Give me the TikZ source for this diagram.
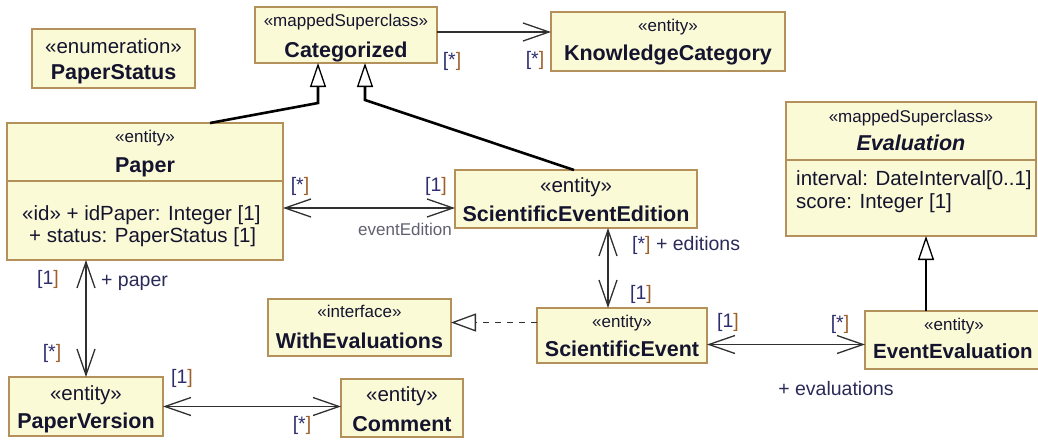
\documentclass[tikz,border=0pt]{standalone}
\usepackage{fontspec}
\setmainfont{Liberation Sans}
\usetikzlibrary{arrows.meta,calc}
\definecolor{clsfill}{HTML}{FBFAD7}
\definecolor{clsdraw}{HTML}{B4915A}
\definecolor{txt}{HTML}{14142E}
\definecolor{mblue}{HTML}{2E2E70}
\definecolor{mbrown}{HTML}{A0602A}
\definecolor{rolec}{HTML}{2A2A58}
\definecolor{linec}{HTML}{303030}
\definecolor{grayl}{HTML}{606070}
\newcommand{\mlt}[1]{{\color{mblue}[#1}{\color{mbrown}]}}
\tikzset{
  cls/.style={draw=clsdraw, fill=clsfill, line width=1.4pt, inner sep=0pt, outer sep=0pt, anchor=north west},
  divline/.style={draw=clsdraw, line width=1.4pt},
  st/.style={font=\fontsize{17}{20}\selectfont, text=txt, inner sep=0pt, anchor=base},
  stL/.style={font=\fontsize{20.5}{24}\selectfont, text=txt, inner sep=0pt, anchor=base},
  nm/.style={font=\bfseries\fontsize{21.5}{25}\selectfont, text=txt, inner sep=0pt, anchor=base},
  attr/.style={font=\fontsize{20.5}{24}\selectfont, text=txt, inner sep=0pt, anchor=base west},
  lbl/.style={font=\fontsize{19.5}{22}\selectfont, text=rolec, inner sep=0pt},
  assoc/.style={draw=linec, line width=1.3pt},
  bi/.style={assoc, {Straight Barb[length=26pt,width=18pt,line width=1.3pt]}-{Straight Barb[length=26pt,width=18pt,line width=1.3pt]}},
  uni/.style={assoc, -{Straight Barb[length=26pt,width=18pt,line width=1.3pt]}},
  gen/.style={draw=black, line width=2.6pt, -{Triangle[length=24pt,width=16pt,line width=1.3pt,fill=white]}},
  realize/.style={draw=linec, line width=1.3pt, dash pattern=on 6pt off 6pt, -{Triangle[length=25pt,width=18pt,line width=1.3pt,fill=white]}}
}
\begin{document}
\begin{tikzpicture}[x=1pt,y=-1pt]
\useasboundingbox (0,0) rectangle (1038,439);
\clip (0,0) rectangle (1038,439);

% PaperStatus
\node[cls, minimum width=163, minimum height=59] (ps) at (32,29) {};
\node[stL] (psS) at ($(ps.north)+(0,24)$) {«enumeration»};
\node[nm] (psN) at ($(ps.north)+(0,50)$) {PaperStatus};

% Categorized
\node[cls, minimum width=182, minimum height=56] (cat) at (255,7) {};
\node[st] (catS) at ($(cat.north)+(0,20)$) {«mappedSuperclass»};
\node[nm] (catN) at ($(cat.north)+(0,50)$) {Categorized};

% KnowledgeCategory
\node[cls, minimum width=234, minimum height=59] (kc) at (551,12) {};
\node[st] (kcS) at ($(kc.north)+(0,19)$) {«entity»};
\node[nm] (kcN) at ($(kc.north)+(0,48)$) {KnowledgeCategory};

% Evaluation
\node[cls, minimum width=250, minimum height=134] (ev) at (786,102) {};
\draw[divline] ($(ev.north west)+(0,58)$) -- ($(ev.north east)+(0,58)$);
\node[st] (evS) at ($(ev.north)+(0,20)$) {«mappedSuperclass»};
\node[nm] (evN) at ($(ev.north)+(0,48)$) {\itshape Evaluation};
\node[attr] (evA1) at (796,185) {interval: DateInterval[0..1]};
\node[attr] (evA2) at (796,208) {score: Integer [1]};

% Paper
\node[cls, minimum width=276, minimum height=137] (paper) at (7,123) {};
\draw[divline] ($(paper.north west)+(0,58)$) -- ($(paper.north east)+(0,58)$);
\node[st] (paperS) at ($(paper.north)+(0,19)$) {«entity»};
\node[nm] (paperN) at ($(paper.north)+(0,49)$) {Paper};
\node[attr] (paperA1) at (22,220) {«id» + idPaper: Integer [1]};
\node[attr] (paperA2) at (29,242) {+ status: PaperStatus [1]};

% ScientificEventEdition
\node[cls, minimum width=242, minimum height=58] (see) at (455,170) {};
\node[stL] (seeS) at ($(see.north)+(0,22)$) {«entity»};
\node[nm] (seeN) at ($(see.north)+(0,51)$) {ScientificEventEdition};

% ScientificEvent
\node[cls, minimum width=170, minimum height=55] (se) at (537,308) {};
\node[st] (seS) at ($(se.north)+(0,19)$) {«entity»};
\node[nm] (seN) at ($(se.north)+(0,48)$) {ScientificEvent};

% EventEvaluation (box runs past the right edge, as in the reference)
\node[cls, minimum width=186, minimum height=58] (ee) at (865,311) {};
\node[st] (eeS) at (954,330) {«entity»};
\node[nm, anchor=base west, font=\bfseries\fontsize{20.5}{24}\selectfont] (eeN) at (873,358) {EventEvaluation};

% WithEvaluations
\node[cls, minimum width=183, minimum height=57] (we) at (268,299) {};
\node[st] (weS) at ($(we.north)+(0,18)$) {«interface»};
\node[nm] (weN) at ($(we.north)+(0,49)$) {WithEvaluations};

% PaperVersion
\node[cls, minimum width=154, minimum height=59] (pv) at (9,377) {};
\node[stL] (pvS) at ($(pv.north)+(0,23)$) {«entity»};
\node[nm] (pvN) at ($(pv.north)+(0,51)$) {PaperVersion};

% Comment
\node[cls, minimum width=122, minimum height=58] (cm) at (341,379) {};
\node[stL] (cmS) at ($(cm.north)+(0,22)$) {«entity»};
\node[nm] (cmN) at ($(cm.north)+(0,52)$) {Comment};

% Generalizations
\coordinate (g1a) at ($(paper.north west)+(203,0)$);
\coordinate (g1b) at ($(cat.south west)+(63,40)$);
\draw[gen] (g1a) -- (g1b) -- ($(cat.south west)+(63,0)$);
\coordinate (g2a) at ($(see.north west)+(119,0)$);
\coordinate (g2b) at ($(cat.south west)+(110,37)$);
\draw[gen] (g2a) -- (g2b) -- ($(cat.south west)+(110,0)$);
\coordinate (g3a) at ($(ee.north west)+(61,0)$);
\draw[gen] (g3a) -- (g3a |- ev.south);

% Categorized -> KnowledgeCategory
\coordinate (c1) at ($(cat.east)+(0,-3)$);
\draw[uni] (c1) -- (kc.west |- c1);
\node[lbl] (l1) at (452,61) {\mlt{*}};
\node[lbl] (l2) at (535,60) {\mlt{*}};

% Paper <-> ScientificEventEdition
\coordinate (c2) at ($(see.west)+(0,9)$);
\draw[bi] (paper.east |- c2) -- (c2);
\node[lbl] (l3) at (300,186) {\mlt{*}};
\node[lbl] (l4) at (436,186) {\mlt{1}};
\node[lbl, text=grayl, font=\fontsize{17}{20}\selectfont] (l5) at (405,229) {eventEdition};

% ScientificEventEdition <-> ScientificEvent
\coordinate (c3) at ($(se.north west)+(71,0)$);
\draw[bi] (c3 |- see.south) -- (c3);
\node[lbl, anchor=west] (l6) at (632,245) {\mlt{*} + editions};
\node[lbl] (l7) at (641,294) {\mlt{1}};

% ScientificEvent <-> EventEvaluation
\coordinate (c4) at ($(se.east)+(0,9)$);
\draw[bi] (c4) -- (ee.west |- c4);
\node[lbl] (l8) at (728,322) {\mlt{1}};
\node[lbl] (l9) at (840,324) {\mlt{*}};
\node[lbl] (l10) at (836,389) {+ evaluations};

% ScientificEvent realizes WithEvaluations
\coordinate (c5) at ($(we.east)+(0,-5)$);
\draw[realize] (se.west |- c5) -- (c5);

% Paper <-> PaperVersion
\draw[bi] (pv.north |- paper.south) -- (pv.north);
\node[lbl] (l11) at (48,279) {\mlt{1}};
\node[lbl, anchor=west] (l12) at (101,283) {+ paper};
\node[lbl] (l13) at (52,353) {\mlt{*}};

% PaperVersion <-> Comment
\draw[bi] (pv.east) -- (cm.west |- pv.east);
\node[lbl] (l14) at (182,378) {\mlt{1}};
\node[lbl] (l15) at (302,425) {\mlt{*}};
\end{tikzpicture}
\end{document}
